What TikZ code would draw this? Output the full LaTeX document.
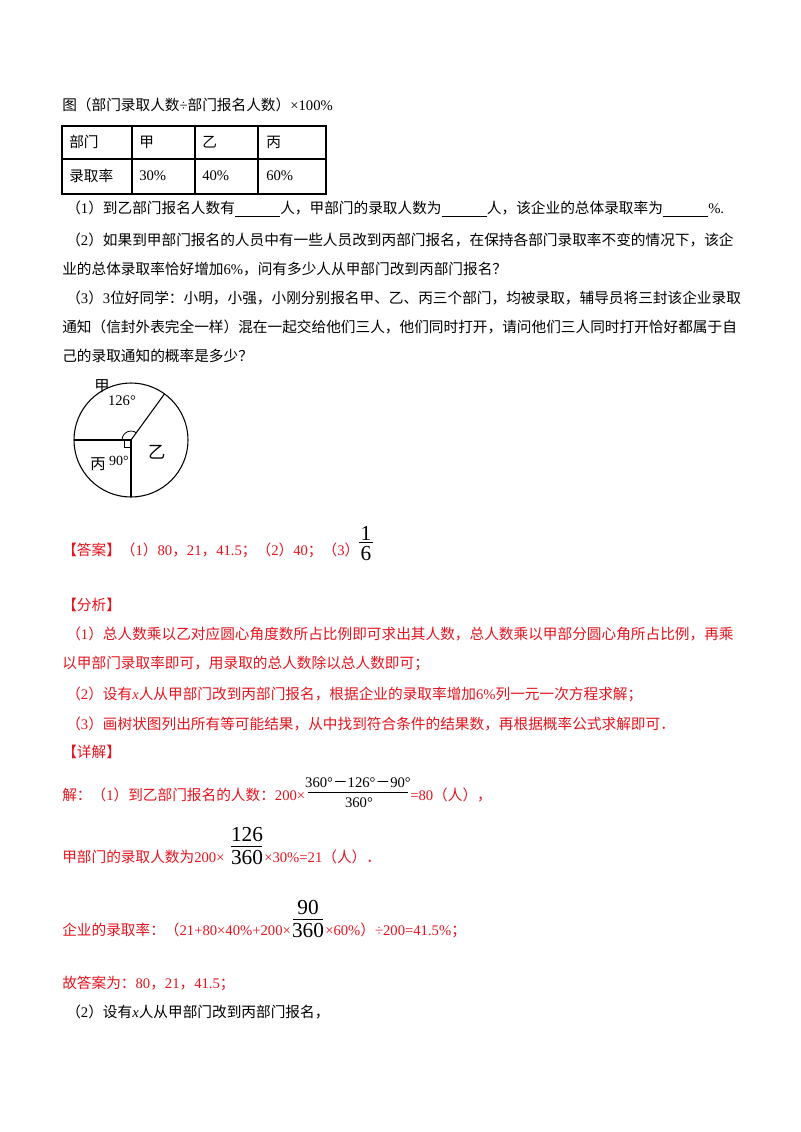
\documentclass[tikz,border=0pt]{standalone}
\usepackage{fontspec}
\setmainfont{Liberation Serif}
\newfontfamily\cjk{Noto Sans CJK SC}
\newfontfamily\latf{Liberation Serif}
\XeTeXinterchartokenstate=1
\newXeTeXintercharclass\CJKcls
\count255="3000 \loop \XeTeXcharclass\count255=\CJKcls \ifnum\count255<"9FFF \advance\count255 1 \repeat
\count255="FF00 \loop \XeTeXcharclass\count255=\CJKcls \ifnum\count255<"FFEF \advance\count255 1 \repeat
\XeTeXinterchartoks 0 \CJKcls={\cjk}
\XeTeXinterchartoks 4095 \CJKcls={\cjk}
\XeTeXinterchartoks \CJKcls 0={\latf}
\XeTeXinterchartoks \CJKcls 4095={\latf}
\definecolor{ans}{RGB}{230,20,30}
\newcommand{\blank}{\underline{\hspace{34pt}}}
\begin{document}
\begin{tikzpicture}[x=0.75pt,y=-0.75pt,
  txt/.style={anchor=west,inner sep=0pt,font=\fontsize{11}{13}\selectfont},
  red/.style={txt,text=ans},
  cell/.style={anchor=west,inner sep=0pt,font=\fontsize{11}{13}\selectfont},
  num/.style={inner sep=0pt,font=\fontsize{16}{18}\selectfont\latf},
  pl/.style={inner sep=0pt,font=\fontsize{11.5}{13}\selectfont}]
\useasboundingbox[fill=white] (0,0) rectangle (800,1132);
\node[txt] (t0) at (62,105) {图（部门录取人数÷部门报名人数）×100\%};
% table
\draw[line width=0.9pt] (62,126) rectangle (326,194);
\draw[line width=0.9pt] (62,159) -- (326,159);
\foreach \x in {132,195,258} \draw[line width=0.9pt] (\x,126) -- (\x,194);
\node[cell] (c1) at (69,142) {部门};
\node[cell] (c2) at (139,142) {甲};
\node[cell] (c3) at (202,142) {乙};
\node[cell] (c4) at (266,142) {丙};
\node[cell] (d1) at (69,176) {录取率};
\node[cell] (d2) at (139,176) {30\%};
\node[cell] (d3) at (202,176) {40\%};
\node[cell] (d4) at (266,176) {60\%};
\node[txt] (q1) at (66,209) {（1）到乙部门报名人数有\blank 人，甲部门的录取人数为\blank 人，该企业的总体录取率为\blank \%.};
\node[txt] (q2a) at (66,240) {（2）如果到甲部门报名的人员中有一些人员改到丙部门报名，在保持各部门录取率不变的情况下，该企};
\node[txt] (q2b) at (62,269) {业的总体录取率恰好增加6\%，问有多少人从甲部门改到丙部门报名？};
\node[txt] (q3a) at (66,298) {（3）3位好同学：小明，小强，小刚分别报名甲、乙、丙三个部门，均被录取，辅导员将三封该企业录取};
\node[txt] (q3b) at (62,327) {通知（信封外表完全一样）混在一起交给他们三人，他们同时打开，请问他们三人同时打开恰好都属于自};
\node[txt] (q3c) at (62,356) {己的录取通知的概率是多少？};
% pie
\coordinate (o) at (131,440);
\draw[line width=0.8pt] (o) circle (57);
\draw[line width=0.8pt] (o) -- ++(-57,0) coordinate (pl);
\draw[line width=0.8pt] (o) -- ++(0,57) coordinate (pb);
\draw[line width=0.8pt] (o) -- ++(-54:57) coordinate (pt);
\draw[line width=0.6pt] (o) ++(-7,0) -- ++(0,7) -- ++(7,0);
\draw[line width=0.6pt] (o) ++(-9,0) arc (-180:-54:9);
\node[pl] (lj) at (102,386) {甲};
\node[pl,font=\fontsize{11}{12}\selectfont\latf] (a1) at (122,401) {126°};
\node[pl] (lb) at (98,464) {丙};
\node[pl,font=\fontsize{10.5}{11}\selectfont\latf] (a2) at (119,461) {90°};
\node[pl,font=\fontsize{13}{14}\selectfont] (ly) at (157,452) {乙};
% answer
\node[red] (ans) at (62,550) {【答案】（1）80，21，41.5；（2）40；（3）};
\node[num] (n1) at (366,533) {1};
\draw[line width=0.6pt] (359,542) -- (373,542);
\node[num] (n6) at (366,554) {6};
\node[red] (fx) at (62,605) {【分析】};
\node[red] (f1a) at (66,634) {（1）总人数乘以乙对应圆心角度数所占比例即可求出其人数，总人数乘以甲部分圆心角所占比例，再乘};
\node[red] (f1b) at (62,663) {以甲部门录取率即可，用录取的总人数除以总人数即可；};
\node[red] (f2) at (66,694) {（2）设有\textit{x}人从甲部门改到丙部门报名，根据企业的录取率增加6\%列一元一次方程求解；};
\node[red] (f3) at (66,724) {（3）画树状图列出所有等可能结果，从中找到符合条件的结果数，再根据概率公式求解即可．};
\node[red] (xj) at (62,752) {【详解】};
\node[red] (s1) at (62,795) {解：（1）到乙部门报名的人数：200×};
\node[inner sep=0pt,font=\fontsize{11}{13}\selectfont\latf] (s1n) at (358,783) {360°－126°－90°};
\draw[line width=0.6pt] (308,792) -- (408,792);
\node[inner sep=0pt,font=\fontsize{11}{13}\selectfont\latf] (s1d) at (359,803) {360°};
\node[red] (s1r) at (410,795) {=80（人），};
\node[red] (s2) at (62,857) {甲部门的录取人数为200×};
\node[num] (s2n) at (247,835) {126};
\draw[line width=0.6pt] (231,846) -- (262,846);
\node[num] (s2d) at (247,857) {360};
\node[red] (s2r) at (264,857) {×30\%=21（人）．};
\node[red] (s3) at (62,930) {企业的录取率：（21+80×40\%+200×};
\node[num] (s3n) at (308,907) {90};
\draw[line width=0.6pt] (293,919) -- (323,919);
\node[num] (s3d) at (308,930) {360};
\node[red] (s3r) at (325,930) {×60\%）÷200=41.5\%；};
\node[red] (s4) at (62,983) {故答案为：80，21，41.5；};
\node[txt] (s5) at (66,1012) {（2）设有\textit{x}人从甲部门改到丙部门报名，};
\end{tikzpicture}
\end{document}
